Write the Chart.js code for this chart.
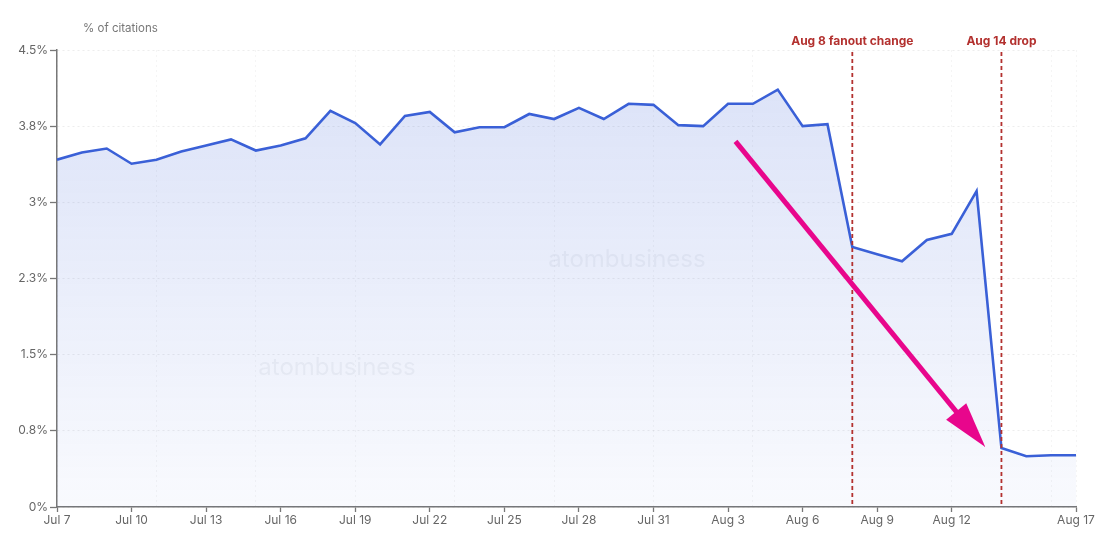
<!DOCTYPE html>
<html>
<head>
<meta charset="utf-8">
<script src="https://cdn.jsdelivr.net/npm/chart.js"></script>
<style>
  body { margin: 0; background: #ffffff; }
  #wrap { width: 1108px; height: 543px; }
</style>
</head>
<body>
<div id="wrap"><canvas id="grafica" width="1108" height="543"></canvas></div>
<script>
// daily share of citations, Jul 7 -> Aug 17
const days = [
  "Jul 7", "Jul 8", "Jul 9", "Jul 10", "Jul 11", "Jul 12", "Jul 13", "Jul 14", "Jul 15", "Jul 16",
  "Jul 17", "Jul 18", "Jul 19", "Jul 20", "Jul 21", "Jul 22", "Jul 23", "Jul 24", "Jul 25", "Jul 26",
  "Jul 27", "Jul 28", "Jul 29", "Jul 30", "Jul 31", "Aug 1", "Aug 2", "Aug 3", "Aug 4", "Aug 5",
  "Aug 6", "Aug 7", "Aug 8", "Aug 9", "Aug 10", "Aug 11", "Aug 12", "Aug 13", "Aug 14", "Aug 15",
  "Aug 16", "Aug 17"
];
const share = [
  3.42, 3.49, 3.53, 3.38, 3.42, 3.50, 3.56, 3.62, 3.51, 3.56,
  3.63, 3.90, 3.78, 3.57, 3.85, 3.89, 3.69, 3.74, 3.74, 3.87,
  3.82, 3.93, 3.82, 3.97, 3.96, 3.76, 3.75, 3.97, 3.97, 4.11,
  3.75, 3.77, 2.56, 2.49, 2.42, 2.63, 2.69, 3.11, 0.58, 0.50,
  0.51, 0.51
];
const tickDays = [0, 3, 6, 9, 12, 15, 18, 21, 24, 27, 30, 33, 36, 41];
const yTicks = [0, 0.75, 1.5, 2.25, 3, 3.75, 4.5];

// annotations (in day index / % units)
const eventDays = [32, 38];
const eventLabels = ["Aug 8 fanout change", "Aug 14 drop"];
const arrowFrom = [27.3, 3.6];
const arrowTo = [37.35, 0.59];

const fuente = "Inter, 'DejaVu Sans', sans-serif";

const anotaciones = {
  id: "anotaciones",
  beforeDatasetsDraw(chart) {
    const { ctx, chartArea: a } = chart;
    ctx.save();
    // marca de agua
    ctx.fillStyle = "rgba(140,145,160,0.10)";
    ctx.font = "24px " + fuente;
    ctx.textAlign = "center";
    ctx.textBaseline = "middle";
    ctx.fillText("atombusiness", a.left + 570, a.top + 210);
    ctx.fillText("atombusiness", a.left + 280, a.top + 318);
    ctx.restore();
  },
  afterDatasetsDraw(chart) {
    const { ctx, chartArea: a, scales } = chart;
    const x = scales.x, y = scales.y;
    ctx.save();

    // titulo del eje
    ctx.fillStyle = "#777777";
    ctx.font = "11.5px " + fuente;
    ctx.textAlign = "left";
    ctx.textBaseline = "middle";
    ctx.fillText("% of citations", a.left + 26, a.top - 21);

    // lineas de eventos
    eventDays.forEach((d, i) => {
      const px = x.getPixelForValue(d);
      ctx.strokeStyle = "#b3312f";
      ctx.lineWidth = 1.8;
      ctx.setLineDash([4, 3]);
      ctx.beginPath();
      ctx.moveTo(px, a.top + 2);
      ctx.lineTo(px, a.bottom);
      ctx.stroke();
      ctx.setLineDash([]);
      ctx.fillStyle = "#b3312f";
      ctx.font = "bold 12px " + fuente;
      ctx.textAlign = "center";
      ctx.textBaseline = "middle";
      ctx.fillText(eventLabels[i], px, a.top - 9);
    });

    // flecha
    const x0 = x.getPixelForValue(arrowFrom[0]), y0 = y.getPixelForValue(arrowFrom[1]);
    const x1 = x.getPixelForValue(arrowTo[0]), y1 = y.getPixelForValue(arrowTo[1]);
    const ang = Math.atan2(y1 - y0, x1 - x0);
    const largo = 46, ancho = 13;
    const bx = x1 - largo * Math.cos(ang), by = y1 - largo * Math.sin(ang);
    ctx.strokeStyle = "#e8068c";
    ctx.fillStyle = "#e8068c";
    ctx.lineWidth = 5;
    ctx.lineCap = "butt";
    ctx.beginPath();
    ctx.moveTo(x0, y0);
    ctx.lineTo(bx + 4 * Math.cos(ang), by + 4 * Math.sin(ang));
    ctx.stroke();
    ctx.beginPath();
    ctx.moveTo(x1, y1);
    ctx.lineTo(bx + ancho * Math.sin(ang), by - ancho * Math.cos(ang));
    ctx.lineTo(bx - ancho * Math.sin(ang), by + ancho * Math.cos(ang));
    ctx.closePath();
    ctx.fill();

    ctx.restore();
  }
};

new Chart(document.getElementById("grafica").getContext("2d"), {
  type: "line",
  data: {
    datasets: [{
      data: share.map((v, i) => ({ x: i, y: v })),
      borderColor: "#3a60d7",
      borderWidth: 2.6,
      pointRadius: 0,
      tension: 0,
      fill: "origin",
      backgroundColor: (c) => {
        const a = c.chart.chartArea;
        if (!a) return "rgba(58,96,215,0.12)";
        const g = c.chart.ctx.createLinearGradient(0, a.top, 0, a.bottom);
        g.addColorStop(0, "rgba(58,96,215,0.19)");
        g.addColorStop(1, "rgba(58,96,215,0.03)");
        return g;
      }
    }]
  },
  options: {
    responsive: false,
    animation: false,
    layout: { padding: { left: 0, top: 50, right: 32, bottom: 0 } },
    plugins: { legend: { display: false }, tooltip: { enabled: false } },
    scales: {
      x: {
        type: "linear",
        min: 0,
        max: days.length - 1,
        afterBuildTicks: (s) => { s.ticks = tickDays.map(v => ({ value: v })); },
        afterFit: (s) => { s.height = 36; },
        ticks: {
          autoSkip: false,
          maxRotation: 0,
          padding: 1,
          color: "#666666",
          font: { family: fuente, size: 12 },
          callback: (v) => days[v]
        },
        grid: { drawOnChartArea: false, tickLength: 5, tickColor: "#777777", tickWidth: 1.3 },
        border: { color: "#777777", width: 1.5 }
      },
      xg: {
        type: "linear",
        position: "top",
        min: 0,
        max: days.length - 1,
        afterFit: (s) => { s.height = 0; },
        ticks: { display: false, stepSize: 4 },
        grid: { drawTicks: false, color: "rgba(0,0,0,0.04)", lineWidth: 1 },
        border: { display: false, dash: [2, 3] }
      },
      y: {
        min: 0,
        max: 4.5,
        afterBuildTicks: (s) => { s.ticks = yTicks.map(v => ({ value: v })); },
        afterFit: (s) => { s.width = 57; },
        ticks: {
          padding: 2,
          color: "#666666",
          font: { family: fuente, size: 12 },
          callback: (v) => parseFloat(v.toFixed(1)) + "%"
        },
        grid: {
          color: "rgba(0,0,0,0.07)",
          tickLength: 7,
          tickColor: "#777777",
          tickWidth: 1.3,
          tickBorderDash: []
        },
        border: { color: "#777777", width: 1.5, dash: [2, 3] }
      }
    }
  },
  plugins: [anotaciones]
});
</script>
</body>
</html>
